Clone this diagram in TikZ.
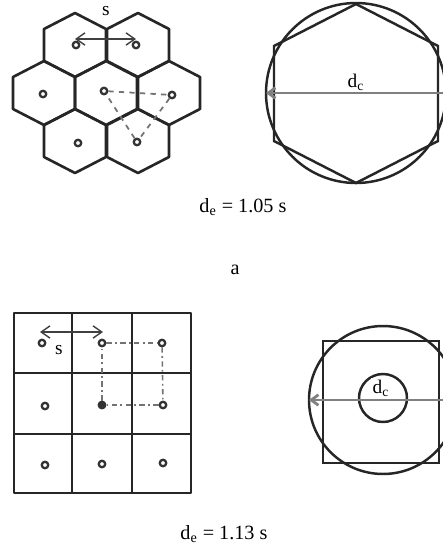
\documentclass[tikz,border=0pt]{standalone}
\usepackage{fontspec}
\setmainfont{Liberation Serif}
\usetikzlibrary{arrows.meta}

\begin{document}
\begin{tikzpicture}[x=0.02cm, y=-0.02cm,
  cell/.style={draw=black!85, line width=1.5pt, line join=round},
  ring/.style={draw=black!85, line width=1.4pt},
  dot/.style={circle, draw=black!80, line width=1.3pt, inner sep=0pt, minimum size=0.13cm},
  fdot/.style={dot, fill=black!80},
  link/.style={draw=black!55, line width=1pt, dashed},
  linkdd/.style={draw=black!55, line width=0.9pt, dash dot},
  gap/.style={{Straight Barb[length=5pt, width=7pt]}-{Straight Barb[length=5pt, width=7pt]}, black!75, line width=0.8pt},
  diam/.style={-{Straight Barb[length=4pt, width=6pt]}, black!50, line width=1.6pt},
  lbl/.style={font=\fontsize{11}{12}\selectfont, inner sep=1pt},
  txt/.style={font=\fontsize{11.5}{13}\selectfont}
]
\useasboundingbox (0,0) rectangle (443,549);

% hexagonal layout
\foreach \cx/\cy in {75/45,138/45,44/93,106/93,169/93,75/141,138/141}
  \draw[cell] (\cx,\cy) ++(0,-32) -- ++(31,16) -- ++(0,32) -- ++(-31,16)
    -- ++(-31,-16) -- ++(0,-32) -- cycle;
\node[dot] (h1) at (76,45) {};
\node[dot] (h2) at (136,45) {};
\node[dot] (h3) at (43,94) {};
\node[dot] (h4) at (104,91) {};
\node[dot] (h5) at (172,95) {};
\node[dot] (h6) at (78,143) {};
\node[dot] (h7) at (137,142) {};
\draw[link] (h4) -- (h5);
\draw[link] (h5) -- (h7);
\draw[link] (h7) -- (h4);
\coordinate (hsL) at (75,39);
\coordinate (hsR) at (136,39);
\draw[gap] (hsL) -- (hsR);
\node[lbl] (hs) at (106,11) {s};

% hexagon in circle
\draw[ring] (356,93) circle[radius=1.8cm];
\draw[ring] (356,4) -- (438,46) -- (438,141) -- (356,183) -- (274,141) -- (274,46) -- cycle;
\coordinate (hdL) at (266,93);
\coordinate (hdR) at (443,93);
\draw[diam] (hdR) -- (hdL);
\node[lbl] (hdc) at (356,82) {d\textsubscript{c}};

\node[txt] (he) at (243,207) {d\textsubscript{e} = 1.05 s};
\node[txt] (ha) at (235,270) {a};

% square layout
\draw[cell] (14,313) rectangle (191,493);
\draw[cell] (72,313) -- (72,493);
\draw[cell] (132,313) -- (132,493);
\draw[cell] (14,373) -- (191,373);
\draw[cell] (14,434) -- (191,434);
\node[dot] (g1) at (42,343) {};
\node[dot] (g2) at (102,343) {};
\node[dot] (g3) at (162,343) {};
\node[dot] (g4) at (45,406) {};
\node[fdot] (g5) at (102,405) {};
\node[dot] (g6) at (163,405) {};
\node[dot] (g7) at (45,465) {};
\node[dot] (g8) at (102,464) {};
\node[dot] (g9) at (163,463) {};
\draw[linkdd] (g2) -- (g3);
\draw[linkdd] (g3) -- (g6);
\draw[linkdd] (g6) -- (g5);
\draw[linkdd] (g5) -- (g2);
\coordinate (gsL) at (40,332);
\coordinate (gsR) at (103,332);
\draw[gap] (gsL) -- (gsR);
\node[lbl] (gs) at (59,350) {s};

% square in circle
\draw[ring] (383,400) circle[radius=1.48cm];
\draw[ring] (323,341) rectangle (439,463);
\draw[ring] (383,398) circle[radius=0.48cm];
\coordinate (gdL) at (309,400);
\coordinate (gdR) at (443,400);
\draw[diam] (gdR) -- (gdL);
\node[lbl, fill=white] (gdc) at (381,388) {d\textsubscript{c}};

\node[txt] (ge) at (224,534) {d\textsubscript{e} = 1.13 s};
\end{tikzpicture}
\end{document}
